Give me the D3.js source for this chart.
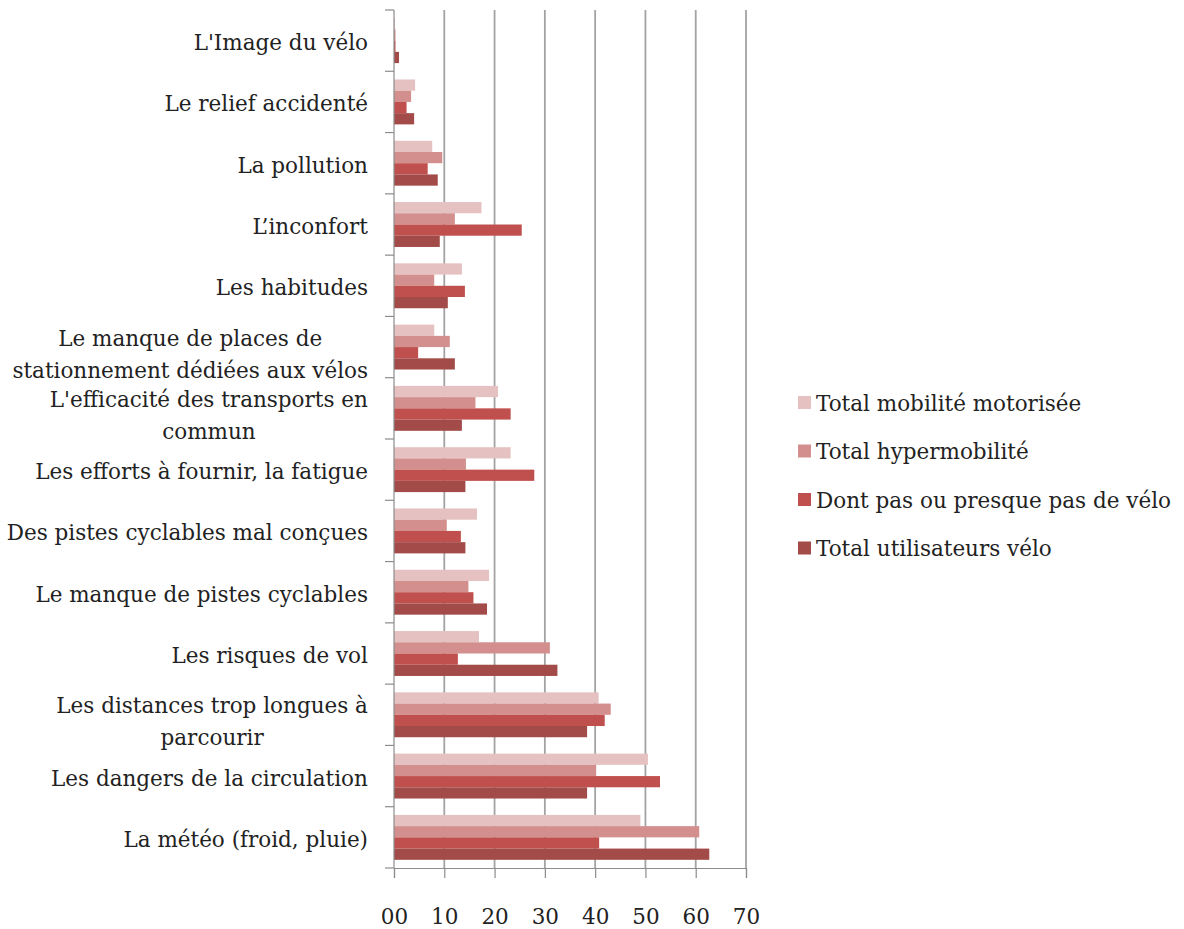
<!DOCTYPE html>
<html lang="fr">
<head>
  <meta charset="UTF-8">
  <title>Freins à l'usage du vélo</title>
  <script src="https://d3js.org/d3.v7.min.js"></script>
  <style>
    body { margin: 0; background: #fff; }
    svg text { font-family: "DejaVu Serif", "Liberation Serif", serif; fill: #222; }
  </style>
</head>
<body>

<svg id="chart" width="1184" height="929"></svg>

<script>
  // categories, top to bottom
  var categories = [
    "L'Image du vélo",
    "Le relief accidenté",
    "La pollution",
    "L’inconfort",
    "Les habitudes",
    "Le manque de places de|stationnement dédiées aux vélos",
    "L'efficacité des transports en|commun",
    "Les efforts à fournir, la fatigue",
    "Des pistes cyclables mal conçues",
    "Le manque de pistes cyclables",
    "Les risques de vol",
    "Les distances trop longues à|parcourir",
    "Les dangers de la circulation",
    "La météo (froid, pluie)"
  ];

  var seriesNames = [
    "Total mobilité motorisée",
    "Total hypermobilité",
    "Dont pas ou presque pas de vélo",
    "Total utilisateurs vélo"
  ];

  var motorisee     = [0.2, 4.2, 7.6, 17.4, 13.5, 8.0, 20.7, 23.2, 16.5, 18.9, 16.9, 40.7, 50.5, 49.0];
  var hypermobilite = [0.3, 3.4, 9.6, 12.1, 8.0, 11.1, 16.2, 14.3, 10.5, 14.8, 31.0, 43.1, 40.2, 60.7];
  var pasDeVelo     = [0.3, 2.5, 6.7, 25.4, 14.1, 4.8, 23.2, 27.9, 13.3, 15.8, 12.7, 41.9, 52.9, 40.8];
  var utilVelo      = [1.0, 4.0, 8.7, 9.1, 10.7, 12.1, 13.5, 14.2, 14.2, 18.5, 32.5, 38.4, 38.4, 62.7];

  var xTicks = [0, 10, 20, 30, 40, 50, 60, 70];

  var colors = ["#e5c2c1", "#d38f8d", "#c0504d", "#a24b48"];
  var seriesValues = [motorisee, hypermobilite, pasDeVelo, utilVelo];

  var svg = d3.select("#chart");
  var plotL = 394, plotR = 746, plotT = 10, plotB = 868;
  var fs = 21.5;

  var x = d3.scaleLinear().domain([0, 70]).range([plotL, plotR]);
  var y0 = d3.scaleBand().domain(categories).range([plotT, plotB]).padding(0);
  var y1 = d3.scaleBand().domain(seriesNames).range([0, y0.bandwidth()]).paddingInner(0).paddingOuter(0.73);

  // gridlines
  svg.append("g")
    .selectAll("line")
    .data(xTicks.slice(1))
    .enter()
    .append("line")
    .attr("x1", d => x(d)).attr("x2", d => x(d))
    .attr("y1", plotT).attr("y2", plotB)
    .attr("stroke", "#a3a3a3")
    .attr("stroke-width", 1.8);

  // bars
  var groups = svg.append("g")
    .selectAll("g")
    .data(categories)
    .enter()
    .append("g")
    .attr("transform", d => "translate(0," + y0(d) + ")");

  groups.selectAll("rect")
    .data((c, i) => seriesNames.map((s, j) => ({ s: s, j: j, v: seriesValues[j][i] })))
    .enter()
    .append("rect")
    .attr("x", x(0))
    .attr("y", d => y1(d.s))
    .attr("width", d => x(d.v) - x(0))
    .attr("height", y1.bandwidth())
    .attr("fill", d => colors[d.j]);

  // left axis with ticks at category boundaries
  var yAxis = svg.append("g");
  yAxis.append("line")
    .attr("x1", plotL).attr("x2", plotL)
    .attr("y1", plotT).attr("y2", plotB)
    .attr("stroke", "#8c8c8c").attr("stroke-width", 1.2);
  var bounds = categories.map(c => y0(c)).concat([plotB]);
  yAxis.selectAll(".tk")
    .data(bounds)
    .enter()
    .append("line")
    .attr("x1", plotL - 9).attr("x2", plotL)
    .attr("y1", d => d).attr("y2", d => d)
    .attr("stroke", "#8c8c8c").attr("stroke-width", 1.2);

  // category labels
  var labels = svg.append("g")
    .selectAll("text")
    .data(categories)
    .enter()
    .append("text")
    .attr("font-size", fs)
    .attr("text-anchor", "middle");

  labels.each(function (d) {
    var parts = d.split("|");
    var t = d3.select(this);
    var cy = y0(d) + y0.bandwidth() / 2 + (parts.length > 1 ? 7 : 2);
    parts.forEach(function (p, k) {
      t.append("tspan").text(p)
        .attr("x", 0)
        .attr("y", cy + (k - (parts.length - 1) / 2) * 32)
        .attr("dy", "0.35em");
    });
    // right-align the block, centre lines within it
    var w = this.getBBox().width;
    t.selectAll("tspan").attr("x", 368 - w / 2);
  });

  // bottom axis
  var xAxis = d3.axisBottom(x)
    .tickValues(xTicks)
    .tickSize(10)
    .tickFormat(d3.format("02d"));

  var gx = svg.append("g")
    .attr("transform", "translate(0," + plotB + ")")
    .call(xAxis);
  gx.select(".domain").attr("stroke", "#8c8c8c").attr("stroke-width", 1.2);
  gx.selectAll(".tick line").attr("stroke", "#8c8c8c").attr("stroke-width", 1.2);
  gx.selectAll(".tick text")
    .attr("font-family", "DejaVu Serif, serif")
    .attr("font-size", fs)
    .attr("fill", "#222")
    .attr("y", 41);

  // legend
  var legend = svg.append("g")
    .selectAll("g")
    .data(seriesNames)
    .enter()
    .append("g")
    .attr("transform", (d, i) => "translate(798," + (403 + i * 48.5) + ")");

  legend.append("rect")
    .attr("x", 0).attr("y", -7)
    .attr("width", 13).attr("height", 13)
    .attr("fill", (d, i) => colors[i]);

  legend.append("text")
    .attr("x", 18)
    .attr("dy", "0.35em")
    .attr("font-size", fs)
    .text(d => d);
</script>

</body>
</html>
